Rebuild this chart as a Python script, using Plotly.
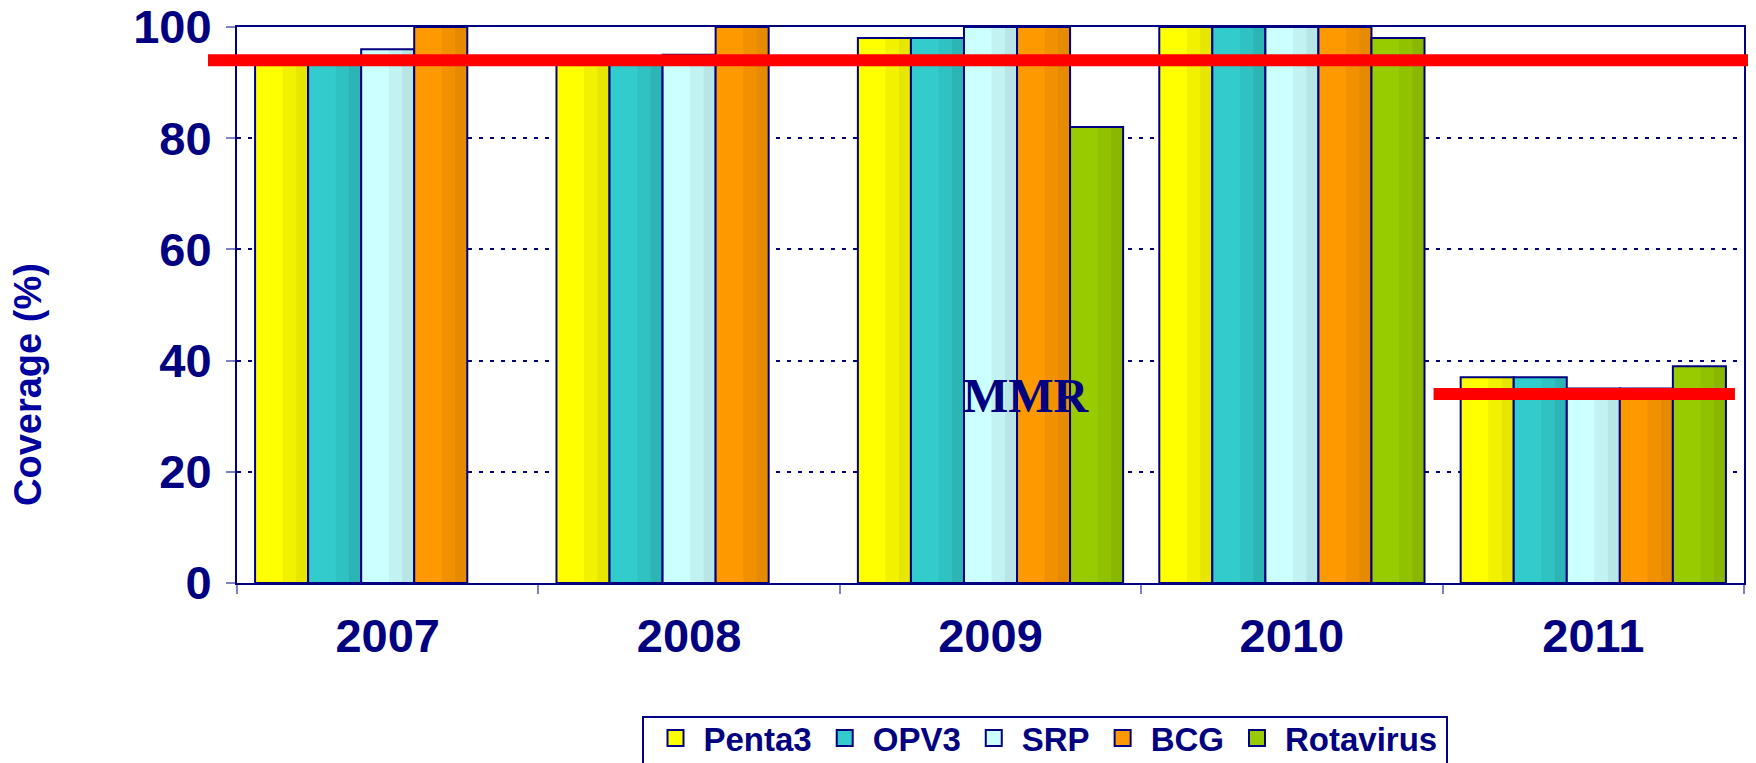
import plotly.graph_objects as go

# ---- data ----
years = ["2007", "2008", "2009", "2010", "2011"]
series_names = ["Penta3", "OPV3", "SRP", "BCG", "Rotavirus"]
penta3 = [94, 94, 98, 100, 37]
opv3 = [94, 94, 98, 100, 37]
srp = [96, 95, 100, 100, 35]
bcg = [100, 100, 100, 100, 35]
rotavirus = [None, None, 82, 98, 39]
target_all_years = 94
target_2011 = 34
mmr_label = "MMR"

values = [penta3, opv3, srp, bcg, rotavirus]

# ---- styles ----
NAVY = "#000080"
base_cols = ["#FFFF00", "#33CCCC", "#CCFFFF", "#FF9900", "#99CC00"]
mid_cols = ["#F2F200", "#30C2C2", "#C2F2F2", "#F29100", "#91C200"]
dark_cols = ["#E6E600", "#2DB5B5", "#B8E6E6", "#E68A00", "#8AB800"]

OFF = 8  # page body margin
W, H = 1756 - OFF, 763 - OFF
ML, MR, MT, MB = 237 - OFF, 12, 27 - OFF, 180
PW, PH = W - ML - MR, H - MT - MB


def px_x(xr):  # reference pixel x -> paper
    return (xr - OFF - ML) / PW


def px_y(yr):  # reference pixel y -> paper
    return (H - MB - (yr - OFF)) / PH


group = 0.88
bw = group / len(series_names)

fig = go.Figure()
for i, (name, vals) in enumerate(zip(series_names, values)):
    off = -group / 2 + i * bw
    fig.add_trace(go.Bar(x=years, y=vals, offset=off, width=bw, name=name,
                         marker=dict(color=base_cols[i], line=dict(width=0)),
                         showlegend=False, hoverinfo="skip"))
    fig.add_trace(go.Bar(x=years, y=vals, offset=off + 0.52 * bw, width=0.25 * bw,
                         marker=dict(color=mid_cols[i], line=dict(width=0)),
                         showlegend=False, hoverinfo="skip"))
    fig.add_trace(go.Bar(x=years, y=vals, offset=off + 0.77 * bw, width=0.23 * bw,
                         marker=dict(color=dark_cols[i], line=dict(width=0)),
                         showlegend=False, hoverinfo="skip"))
    fig.add_trace(go.Bar(x=years, y=vals, offset=off, width=bw,
                         marker=dict(color="rgba(0,0,0,0)", line=dict(color=NAVY, width=2)),
                         showlegend=False, name=name))
    fig.add_trace(go.Scatter(x=[None], y=[None], mode="markers", name=name,
                             marker=dict(symbol="square", size=20, color=base_cols[i],
                                         line=dict(color=NAVY, width=2)),
                             showlegend=True))

# target lines
fig.add_shape(type="line", xref="paper", yref="y",
              x0=px_x(208), x1=px_x(1750),
              y0=target_all_years, y1=target_all_years,
              line=dict(color="#FF0000", width=12), layer="above")
fig.add_shape(type="line", xref="x", yref="y",
              x0=3.47, x1=4.47, y0=target_2011, y1=target_2011,
              line=dict(color="#FF0000", width=12), layer="above")

# legend frame
fig.add_shape(type="rect", xref="paper", yref="paper",
              x0=px_x(643), x1=px_x(1447), y0=px_y(790), y1=px_y(717),
              line=dict(color=NAVY, width=2), fillcolor="rgba(0,0,0,0)", layer="above")

# MMR label
fig.add_annotation(x=2.12, y=33.8, xref="x", yref="y", text=mmr_label, showarrow=False,
                   font=dict(family="Liberation Serif, Times New Roman", size=48,
                             color=NAVY, weight="bold"),
                   xanchor="center", yanchor="middle")

# y-axis title
fig.add_annotation(x=px_x(28), y=px_y(385), xref="paper", yref="paper",
                   text="Coverage (%)", textangle=-90, showarrow=False,
                   font=dict(family="Liberation Sans, Arial", size=38, color="#0000A0",
                             weight="bold"),
                   xanchor="center", yanchor="middle")

fig.update_layout(
    width=W, height=H, autosize=False,
    margin=dict(l=ML, r=MR, t=MT, b=MB, autoexpand=False),
    paper_bgcolor="white", plot_bgcolor="white",
    barmode="overlay",
    font=dict(family="Liberation Sans, Arial", color=NAVY),
    legend=dict(orientation="h", xref="paper", x=px_x(1045), xanchor="center",
                yref="container", y=1 - (710 - OFF) / H, yanchor="top",
                font=dict(family="Liberation Sans, Arial", size=33, color=NAVY, weight="bold"),
                borderwidth=0, bgcolor="rgba(0,0,0,0)",
                itemsizing="trace", itemwidth=46),
)

fig.update_yaxes(range=[0, 100], dtick=20, showgrid=True, gridcolor=NAVY, gridwidth=2,
                 griddash="4px,7px", zeroline=False, automargin=False,
                 showline=True, linecolor=NAVY, linewidth=2, mirror=True,
                 ticks="outside", ticklen=9, tickwidth=2, tickcolor="#8080C0",
                 ticklabelstandoff=5, ticklabeloverflow="allow",
                 tickfont=dict(family="Liberation Sans, Arial", size=47, color=NAVY,
                               weight="bold"))
fig.update_xaxes(type="category", categoryorder="array", categoryarray=years,
                 range=[-0.5, 4.5], showgrid=False, zeroline=False, automargin=False,
                 showline=True, linecolor=NAVY, linewidth=2, mirror=True,
                 ticks="outside", tickson="boundaries", ticklen=9, tickwidth=2,
                 tickcolor="#8080C0", ticklabelstandoff=11, ticklabeloverflow="allow",
                 tickfont=dict(family="Liberation Sans, Arial", size=47, color=NAVY,
                               weight="bold"))

fig.write_html("out.html")
